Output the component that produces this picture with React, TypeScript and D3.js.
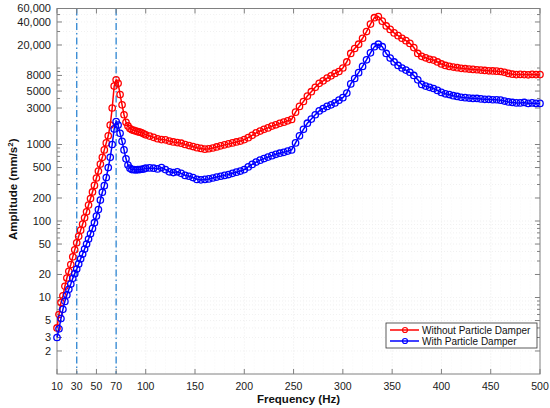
import * as d3 from 'd3';
import React, { useEffect, useRef } from 'react';

// frequency grid (Hz)
const freqLow = d3.range(10, 100, 2);
const freqHigh = d3.range(100, 501, 4);
const frequencies = [...freqLow, ...freqHigh];

// amplitude without particle damper (mm/s^2)
const withoutDamper = [
  4, 6, 8.6, 10.5, 14, 18, 22, 27, 34, 42,
  52, 63, 76, 91, 110, 132, 162, 197, 240, 292,
  365, 450, 555, 680, 850, 1050, 1300, 1800, 3000, 5800,
  7000, 6300, 4500, 3300, 2450, 1950, 1750, 1620, 1560, 1530,
  1500, 1470, 1450, 1420, 1380, 1340,
  1290, 1240, 1190, 1160, 1150, 1110, 1080, 1060, 1040, 1000,
  970, 940, 910, 890, 870, 880, 900, 930, 960, 990,
  1020, 1050, 1080, 1110, 1160, 1230, 1320, 1420, 1500, 1580,
  1650, 1740, 1810, 1890, 1960, 2040, 2130, 2650, 3150, 3650,
  4300, 4900, 5600, 6300, 6800, 7400, 7900, 8500, 9000, 10000,
  12000, 15500, 18000, 20500, 24500, 30000, 37500, 45500, 47000, 41000,
  35500, 32000, 28800, 26500, 24500, 22800, 21000, 18500, 15500, 14200,
  13600, 13000, 12700, 12000, 11300, 10800, 10500, 10300, 10100, 9900,
  9800, 9700, 9600, 9500, 9400, 9300, 9200, 9150, 9100, 9000,
  8800, 8500, 8300, 8200, 8250, 8200, 8150, 8250, 8200, 8200,
];

// amplitude with particle damper (mm/s^2)
const withDamper = [
  3, 3.9, 5.3, 7, 8.9, 10.8, 12.8, 15, 17.8, 20.5,
  23.5, 27.5, 32, 37, 43, 50, 58, 68, 80, 95,
  116, 141, 188, 238, 290, 370, 500, 680, 1000, 1600,
  2000, 1800, 1400, 1100, 850, 650, 540, 490, 470, 470,
  465, 470, 470, 475, 480, 490,
  495, 490, 480, 500, 470, 440, 430, 440, 420, 395,
  385, 370, 350, 345, 350, 355, 365, 375, 385, 395,
  405, 420, 435, 450, 470, 510, 550, 590, 625, 655,
  685, 715, 745, 770, 790, 820, 850, 1050, 1300, 1580,
  1900, 2150, 2450, 2750, 2950, 3150, 3300, 3500, 3800, 4100,
  4700, 6200, 7300, 8700, 10500, 12800, 15800, 19000, 20500, 19000,
  15500, 13500, 12000, 10800, 10000, 9400, 8800, 8000, 7000, 6100,
  5800, 5600, 5400, 5100, 4800, 4600, 4500, 4350, 4250, 4150,
  4100, 4050, 4000, 4000, 3950, 3900, 3900, 3850, 3850, 3800,
  3700, 3600, 3550, 3500, 3500, 3550, 3450, 3500, 3450, 3450,
];

const xTicks = [10, 30, 50, 70, 100, 150, 200, 250, 300, 350, 400, 450, 500];
const yTicks = [2, 3, 5, 10, 20, 50, 100, 200, 500, 1000, 3000, 5000, 8000, 20000, 40000, 60000];
const markerLines = [30, 70];

const seriesList = [
  { label: 'Without Particle Damper', values: withoutDamper, color: '#ff0000' },
  { label: 'With Particle Damper', values: withDamper, color: '#0000ff' },
];

const App = () => {
  const d3Container = useRef<SVGSVGElement | null>(null);

  useEffect(() => {
    if (!d3Container.current) {
      return;
    }
    const svg = d3.select(d3Container.current);
    svg.selectAll('*').remove();

    const margin = { top: 8.5, right: 10, bottom: 34, left: 57 };
    const width = 550;
    const height = 408;
    const innerW = width - margin.left - margin.right;
    const innerH = height - margin.top - margin.bottom;

    const xScale = d3.scaleLinear().domain([10, 500]).range([0, innerW]);
    const yScale = d3.scaleLog().domain([1, 60000]).range([innerH, 0]);

    const g = svg.append('g').attr('transform', `translate(${margin.left},${margin.top})`);

    // minor log values
    const minorY: number[] = [];
    [1, 10, 100, 1000, 10000].forEach((p) => {
      for (let k = 1; k < 10; k++) {
        const v = p * k;
        if (v > 1 && v <= 60000) minorY.push(v);
      }
    });

    // grid
    minorY.forEach((v) => {
      g.append('line').attr('x1', 0).attr('x2', innerW).attr('y1', yScale(v)).attr('y2', yScale(v))
        .attr('stroke', '#e8e8e8').attr('stroke-width', 0.6).attr('stroke-dasharray', '1,2');
    });
    xTicks.forEach((v) => {
      g.append('line').attr('x1', xScale(v)).attr('x2', xScale(v)).attr('y1', 0).attr('y2', innerH)
        .attr('stroke', '#e8e8e8').attr('stroke-width', 0.6).attr('stroke-dasharray', '1,2');
    });
    d3.range(20, 500, 10).forEach((v) => {
      g.append('line').attr('x1', xScale(v)).attr('x2', xScale(v)).attr('y1', 0).attr('y2', innerH)
        .attr('stroke', '#f0f0f0').attr('stroke-width', 0.5).attr('stroke-dasharray', '1,2');
    });

    // vertical reference lines
    markerLines.forEach((v) => {
      g.append('line').attr('x1', xScale(v)).attr('x2', xScale(v)).attr('y1', 0).attr('y2', innerH)
        .attr('stroke', '#3d8fd6').attr('stroke-width', 1.4).attr('stroke-dasharray', '7,3,1.5,3');
    });

    // box and ticks
    g.append('rect').attr('x', 0).attr('y', 0).attr('width', innerW).attr('height', innerH)
      .attr('fill', 'none').attr('stroke', '#808080').attr('stroke-width', 1);

    minorY.forEach((v) => {
      const major = yTicks.includes(v);
      const len = major ? 5 : 3;
      g.append('line').attr('x1', 0).attr('x2', len).attr('y1', yScale(v)).attr('y2', yScale(v)).attr('stroke', '#808080');
      g.append('line').attr('x1', innerW - len).attr('x2', innerW).attr('y1', yScale(v)).attr('y2', yScale(v)).attr('stroke', '#808080');
    });
    xTicks.forEach((v) => {
      g.append('line').attr('x1', xScale(v)).attr('x2', xScale(v)).attr('y1', innerH).attr('y2', innerH - 5).attr('stroke', '#808080');
      g.append('line').attr('x1', xScale(v)).attr('x2', xScale(v)).attr('y1', 0).attr('y2', 5).attr('stroke', '#808080');
    });

    const fmt = (v: number) => (v >= 10000 ? d3.format(',')(v) : String(v));
    g.selectAll('.ylab').data(yTicks).enter().append('text')
      .attr('x', -6).attr('y', (d) => yScale(d)).attr('dy', '0.35em')
      .attr('text-anchor', 'end').attr('font-size', 11).attr('fill', '#1a1a1a')
      .attr('font-family', 'Liberation Sans, Arial, sans-serif').text((d) => fmt(d));

    g.selectAll('.xlab').data(xTicks).enter().append('text')
      .attr('x', (d) => xScale(d)).attr('y', innerH + 16)
      .attr('text-anchor', 'middle').attr('font-size', 10.5).attr('fill', '#1a1a1a')
      .attr('font-family', 'Liberation Sans, Arial, sans-serif').text((d) => d);

    // axis titles
    svg.append('text').attr('x', margin.left + innerW / 2).attr('y', 403)
      .attr('text-anchor', 'middle').attr('font-size', 11.5).attr('font-weight', 'bold')
      .attr('font-family', 'Liberation Sans, Arial, sans-serif').attr('fill', '#111').text('Frequency (Hz)');

    const yt = svg.append('text').attr('transform', `translate(17,${margin.top + innerH / 2 - 2}) rotate(-90)`)
      .attr('text-anchor', 'middle').attr('font-size', 11.5).attr('font-weight', 'bold')
      .attr('font-family', 'Liberation Sans, Arial, sans-serif').attr('fill', '#111');
    yt.append('tspan').text('Amplitude (mm/s');
    yt.append('tspan').attr('dy', -4).attr('font-size', 8).text('2');
    yt.append('tspan').attr('dy', 4).text(')');

    // series
    const line = d3.line<number>()
      .x((d, i) => xScale(frequencies[i]))
      .y((d) => yScale(d));

    seriesList.forEach((s) => {
      g.append('path').datum(s.values).attr('d', line).attr('fill', 'none')
        .attr('stroke', s.color).attr('stroke-width', 1.5);
      g.selectAll(null).data(s.values).enter().append('circle')
        .attr('cx', (d, i) => xScale(frequencies[i])).attr('cy', (d) => yScale(d))
        .attr('r', 3.2).attr('fill', 'none').attr('stroke', s.color).attr('stroke-width', 1.3);
    });

    // legend
    const lg = svg.append('g').attr('transform', 'translate(386,323)');
    lg.append('rect').attr('width', 151).attr('height', 25).attr('fill', '#fff').attr('stroke', '#333').attr('stroke-width', 0.8);
    seriesList.forEach((s, i) => {
      const yy = 7 + i * 11;
      lg.append('line').attr('x1', 4).attr('x2', 33).attr('y1', yy).attr('y2', yy).attr('stroke', s.color).attr('stroke-width', 1.5);
      lg.append('circle').attr('cx', 19).attr('cy', yy).attr('r', 2.5).attr('fill', 'none').attr('stroke', s.color).attr('stroke-width', 1.2);
      lg.append('text').attr('x', 36).attr('y', yy).attr('dy', '0.35em').attr('font-size', 10)
        .attr('font-family', 'Liberation Sans, Arial, sans-serif').attr('fill', '#111').text(s.label);
    });
  }, []);

  return (
    <svg
      ref={d3Container}
      width={550}
      height={408}
      style={{ position: 'absolute', left: 0, top: 0, background: '#fff' }}
    />
  );
};

export default App;
